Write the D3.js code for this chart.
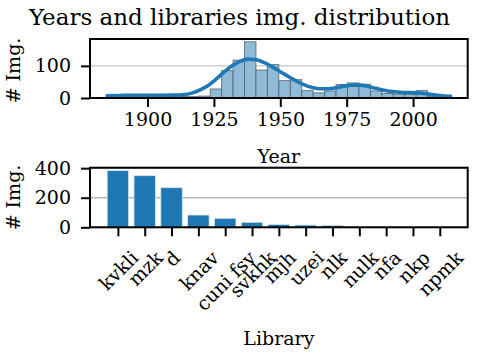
<!DOCTYPE html>
<html>
<head>
<meta charset="utf-8">
<script src="https://cdn.jsdelivr.net/npm/d3@7"></script>
<style>
  html, body { margin: 0; padding: 0; background: #fff; }
  svg { display: block; }
  text { font-family: "DejaVu Serif", serif; fill: #000; }
</style>
</head>
<body>
<svg id="chart" width="477" height="355"></svg>
<script>
// ---------- data ----------
const yearBinEdges = [1884.8, 1889.11, 1893.42, 1897.73, 1902.04, 1906.35, 1910.66, 1914.97, 1919.28,
  1923.59, 1927.9, 1932.21, 1936.52, 1940.83, 1945.14, 1949.45, 1953.76, 1958.07, 1962.38,
  1966.69, 1971.0, 1975.31, 1979.62, 1983.93, 1988.24, 1992.55, 1996.86, 2001.17, 2005.48,
  2009.79, 2014.1];
const yearCounts = [5, 6, 6, 6, 6, 6, 5, 4, 6,
  28, 85, 118, 175, 87, 104, 54, 57, 23, 16,
  22, 42, 47, 43, 22, 14, 12, 12, 23, 5, 3];
const kdeYears = [1884.8, 1890, 1895, 1900, 1905, 1910, 1914, 1917, 1920, 1923, 1926, 1929, 1932,
  1935, 1938, 1941, 1944, 1947, 1950, 1953, 1956, 1959, 1962, 1965, 1968, 1971, 1974, 1977,
  1980, 1983, 1986, 1989, 1992, 1995, 1998, 2001, 2004, 2007, 2010, 2014.1];
const kdeValues = [7, 8, 8.5, 8.5, 8.5, 9, 11, 16, 26, 40, 60, 82, 101,
  115, 121, 119, 110, 97, 82, 67, 53, 41, 33, 29, 29, 32, 37, 40,
  40, 36, 30, 24, 20, 18, 17, 16, 14, 11, 8, 5];
const yearTicks = [1900, 1925, 1950, 1975, 2000];
const yearCountTicks = [0, 100];

const libraries = ["kvkli", "mzk", "d", "knav", "cuni fsv", "svkhk", "mjh", "uzei", "nlk",
  "nulk", "nfa", "nkp", "npmk"];
const libraryCounts = [384, 349, 268, 83, 61, 34, 19, 15, 13, 2, 1, 1, 1];
const libraryCountTicks = [0, 200, 400];

const titleText = "Years and libraries img. distribution";

// ---------- layout ----------
const svg = d3.select("#chart");
const FS = 19;
const blue = "#1f77b4";

const topBox = { x0: 90, x1: 467.7, y0: 39, y1: 98 };
const botBox = { x0: 90, x1: 467.7, y0: 167.7, y1: 227.3 };

svg.append("text")
  .attr("x", 239.5).attr("y", 25)
  .attr("text-anchor", "middle")
  .style("font-size", "23px")
  .text(titleText);

// ---------- top: histogram ----------
const yMin = d3.min(yearBinEdges), yMax = d3.max(yearBinEdges);
const xPad = (yMax - yMin) * 0.05;
const xTop = d3.scaleLinear().domain([yMin - xPad, yMax + xPad]).range([topBox.x0, topBox.x1]);
const yTop = d3.scaleLinear().domain([0, d3.max(yearCounts) * 1.05]).range([topBox.y1, topBox.y0]);

const gTop = svg.append("g");
gTop.selectAll("line.grid").data(yearCountTicks).join("line")
  .attr("x1", topBox.x0).attr("x2", topBox.x1)
  .attr("y1", d => yTop(d)).attr("y2", d => yTop(d))
  .attr("stroke", "#d6d6d6").attr("stroke-width", 1.6);

const hist = yearCounts.map((c, i) => ({ x0: yearBinEdges[i], x1: yearBinEdges[i + 1], c }));
gTop.selectAll("rect.bar").data(hist).join("rect")
  .attr("x", d => xTop(d.x0))
  .attr("width", d => xTop(d.x1) - xTop(d.x0))
  .attr("y", d => yTop(d.c))
  .attr("height", d => yTop(0) - yTop(d.c))
  .attr("fill", "#8fbbd9")
  .attr("stroke", "#4d5b66")
  .attr("stroke-opacity", 0.85)
  .attr("stroke-width", 0.9);

const kde = kdeYears.map((y, i) => [y, kdeValues[i]]);
gTop.append("path")
  .datum(kde)
  .attr("fill", "none")
  .attr("stroke", blue)
  .attr("stroke-width", 3.6)
  .attr("stroke-linecap", "round")
  .attr("d", d3.line().x(d => xTop(d[0])).y(d => yTop(d[1])).curve(d3.curveMonotoneX));

gTop.append("rect")
  .attr("x", topBox.x0).attr("y", topBox.y0)
  .attr("width", topBox.x1 - topBox.x0).attr("height", topBox.y1 - topBox.y0)
  .attr("fill", "none").attr("stroke", "#000").attr("stroke-width", 2);

const axTopX = gTop.append("g").attr("transform", `translate(0,${topBox.y1})`)
  .call(d3.axisBottom(xTop).tickValues(yearTicks).tickFormat(d3.format("d")).tickSize(9).tickPadding(6));
const axTopY = gTop.append("g").attr("transform", `translate(${topBox.x0},0)`)
  .call(d3.axisLeft(yTop).tickValues(yearCountTicks).tickFormat(d3.format("d")).tickSize(9).tickPadding(10));

[axTopX, axTopY].forEach(a => {
  a.select(".domain").remove();
  a.selectAll(".tick line").attr("stroke", "#000").attr("stroke-width", 2);
  a.selectAll(".tick text").style("font-size", FS + "px").style("font-family", "DejaVu Serif");
});

svg.append("text")
  .attr("x", (topBox.x0 + topBox.x1) / 2).attr("y", 163)
  .attr("text-anchor", "middle").style("font-size", FS + "px")
  .text("Year");
svg.append("text")
  .attr("transform", `translate(20,${(topBox.y0 + topBox.y1) / 2 + 2}) rotate(-90)`)
  .attr("text-anchor", "middle").style("font-size", FS + "px")
  .text("# Img.");

// ---------- bottom: bar chart ----------
const nLib = libraries.length;
const span = (nLib - 1) + 0.8;
const xBot = d3.scaleLinear()
  .domain([-0.4 - span * 0.05, nLib - 1 + 0.4 + span * 0.05])
  .range([botBox.x0, botBox.x1]);
const yBot = d3.scaleLinear().domain([0, d3.max(libraryCounts) * 1.05]).range([botBox.y1, botBox.y0]);

const gBot = svg.append("g");
gBot.selectAll("line.grid").data(libraryCountTicks).join("line")
  .attr("x1", botBox.x0).attr("x2", botBox.x1)
  .attr("y1", d => yBot(d)).attr("y2", d => yBot(d))
  .attr("stroke", "#b8b8b8").attr("stroke-width", 1.6);

gBot.selectAll("rect.bar").data(libraryCounts).join("rect")
  .attr("x", (d, i) => xBot(i - 0.4))
  .attr("width", (d, i) => xBot(i + 0.4) - xBot(i - 0.4))
  .attr("y", d => yBot(d))
  .attr("height", d => yBot(0) - yBot(d))
  .attr("fill", blue)
  .attr("stroke", "#d8e6f0")
  .attr("stroke-width", 0.8);

gBot.append("rect")
  .attr("x", botBox.x0).attr("y", botBox.y0)
  .attr("width", botBox.x1 - botBox.x0).attr("height", botBox.y1 - botBox.y0)
  .attr("fill", "none").attr("stroke", "#000").attr("stroke-width", 2);

const axBotX = gBot.append("g").attr("transform", `translate(0,${botBox.y1})`)
  .call(d3.axisBottom(xBot).tickValues(d3.range(nLib)).tickFormat(i => libraries[i]).tickSize(9).tickPadding(5));
const axBotY = gBot.append("g").attr("transform", `translate(${botBox.x0},0)`)
  .call(d3.axisLeft(yBot).tickValues(libraryCountTicks).tickFormat(d3.format("d")).tickSize(9).tickPadding(10));

[axBotX, axBotY].forEach(a => {
  a.select(".domain").remove();
  a.selectAll(".tick line").attr("stroke", "#000").attr("stroke-width", 2);
  a.selectAll(".tick text").style("font-size", FS + "px").style("font-family", "DejaVu Serif");
});

const labTop = 9 + 10;
axBotX.selectAll(".tick text").each(function () {
  const t = d3.select(this);
  const w = this.getComputedTextLength();
  const h = FS * 1.16;
  const off = (w + h) / (2 * Math.SQRT2);
  t.attr("y", 0).attr("dy", null)
    .attr("text-anchor", "middle")
    .attr("dominant-baseline", "central")
    .attr("transform", `translate(0,${labTop + off}) rotate(-45)`);
});

svg.append("text")
  .attr("x", (botBox.x0 + botBox.x1) / 2).attr("y", 345)
  .attr("text-anchor", "middle").style("font-size", FS + "px")
  .text("Library");
svg.append("text")
  .attr("transform", `translate(20,${(botBox.y0 + botBox.y1) / 2}) rotate(-90)`)
  .attr("text-anchor", "middle").style("font-size", FS + "px")
  .text("# Img.");
</script>
</body>
</html>
